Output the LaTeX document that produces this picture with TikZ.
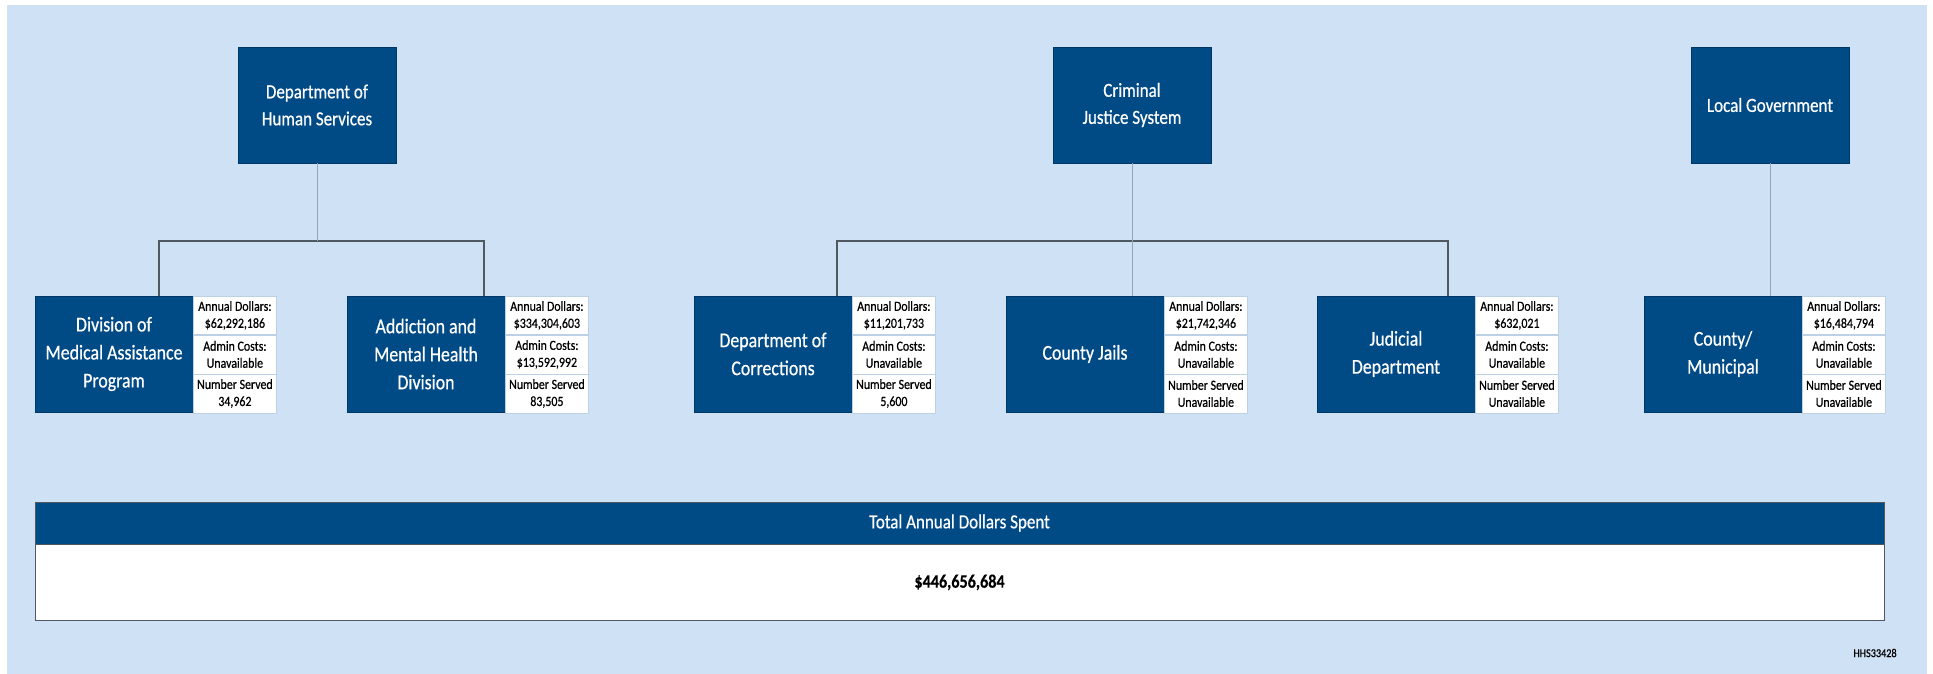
\documentclass[tikz,border=0pt]{standalone}
\usepackage{fontspec}
\setmainfont{Carlito}[FakeStretch=0.85, FakeBold=0.6, BoldFeatures={FakeBold=0.3}]
\usepackage{tikz}
\usetikzlibrary{positioning}

\definecolor{navy}{RGB}{0,74,134}
\definecolor{bgblue}{RGB}{207,225,245}
\definecolor{cellline}{RGB}{190,208,228}
\definecolor{busgray}{RGB}{80,88,98}
\definecolor{stemgray}{RGB}{150,166,186}

\tikzset{
  headbox/.style={fill=navy, draw=navy!75!black, text=white, minimum width=158pt, minimum height=116pt,
    inner sep=0pt, align=center, font=\fontsize{20}{27}\selectfont},
  unitbox/.style={headbox, font=\fontsize{21}{28}\selectfont},
  infocell/.style={fill=white, draw=cellline, minimum width=83pt, minimum height=38.67pt,
    inner sep=0pt, align=center, font=\fontsize{14}{17}\selectfont},
  busline/.style={draw=busgray, line width=1.3pt},
  stem/.style={draw=stemgray, line width=0.8pt}
}

% three stacked cells at the right of a unit box
\newcommand{\infocells}[4]{%
  \node[infocell, anchor=north west] (#1-1) at (#1.north east) {Annual Dollars:\\#2};
  \node[infocell, below=0pt of #1-1] (#1-2) {Admin Costs:\\#3};
  \node[infocell, below=0pt of #1-2] (#1-3) {Number Served\\#4};
}

\begin{document}
\begin{tikzpicture}[x=1pt, y=-1pt]
\useasboundingbox (0,0) rectangle (1933,674);
\fill[bgblue] (7,5) rectangle (1927,674);

 \node[headbox] (dhs) at (317,105) {Department of\\Human Services};
 \node[headbox] (cjs) at (1132,105) {Criminal\\Justice System};
 \node[headbox] (lg) at (1770,105) {Local Government};

 \node[unitbox] (dmap) at (114,354) {Division of\\Medical Assistance\\Program};
 \node[unitbox] (amhd) at (426,354) {Addiction and\\Mental Health\\Division};
 \node[unitbox] (doc) at (773,354) {Department of\\Corrections};
 \node[unitbox] (jails) at (1085,354) {County Jails};
 \node[unitbox] (jud) at (1396,354) {Judicial\\Department};
 \node[unitbox] (cnty) at (1723,354) {County/\\Municipal};

 \infocells{dmap}{\$62,292,186}{Unavailable}{34,962}
 \infocells{amhd}{\$334,304,603}{\$13,592,992}{83,505}
 \infocells{doc}{\$11,201,733}{Unavailable}{5,600}
 \infocells{jails}{\$21,742,346}{Unavailable}{Unavailable}
 \infocells{jud}{\$632,021}{Unavailable}{Unavailable}
 \infocells{cnty}{\$16,484,794}{Unavailable}{Unavailable}

 \coordinate (b1) at (159,241);
 \coordinate (b2) at (484,241);
 \coordinate (b3) at (837,241);
 \coordinate (b5) at (1448,241);

 \draw[busline] (dmap.north -| b1) -- (b1) -- (b2) -- (amhd.north -| b2);
 \draw[busline] (doc.north -| b3) -- (b3) -- (b5) -- (jud.north -| b5);
 \draw[stem] (dhs.south) -- (dhs.south |- b1);
 \draw[stem] (cjs.south) -- (jails.north -| cjs.south);
 \draw[stem] (lg.south) -- (cnty.north -| lg.south);

 \node[fill=navy, draw=busgray, text=white, minimum width=1849pt, minimum height=42pt, inner sep=0pt,
   font=\fontsize{20}{24}\selectfont] (total) at (959.5,523) {Total Annual Dollars Spent};
 \node[fill=white, draw=busgray, minimum width=1849pt, minimum height=76pt, inner sep=0pt,
   font=\bfseries\fontsize{19}{24}\selectfont, below=0pt of total] (sum) {\$446,656,684};

 \node[font=\fontsize{12}{14}\selectfont] (code) at (1875,653) {HHS33428};

\end{tikzpicture}
\end{document}
